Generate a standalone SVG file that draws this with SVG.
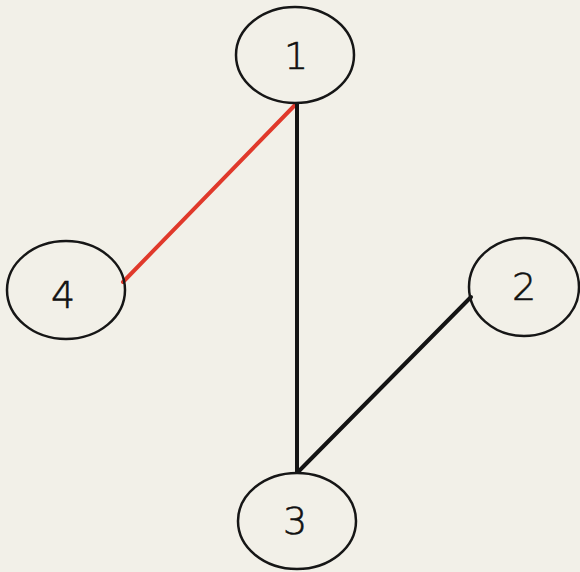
<svg xmlns="http://www.w3.org/2000/svg" width="580" height="572" viewBox="0 0 580 572">
<style>
.node ellipse{fill:none;stroke:#161616;stroke-width:2.5}
.node text{font-family:"DejaVu Sans","Liberation Sans",sans-serif;font-size:38px;font-weight:200;fill:#111;stroke:#111;stroke-width:0.6;text-anchor:middle;dominant-baseline:central}
.edge{stroke-width:4;stroke-linecap:round}
</style>
<rect width="580" height="572" fill="#f2f0e8"/>
<g id="connectors">
<line class="edge" x1="296" y1="104" x2="123" y2="282" stroke="#e0392b"/>
<line class="edge" x1="297" y1="104" x2="297" y2="472" stroke="#141414"/>
<line class="edge" x1="471" y1="297" x2="298" y2="472" stroke="#141414"/>
</g>
<g id="node1" class="node"><ellipse cx="295" cy="55" rx="59" ry="48"/><text x="296" y="56">1</text></g>
<g id="node4" class="node"><ellipse cx="66" cy="290" rx="59" ry="49"/><text x="63" y="295">4</text></g>
<g id="node2" class="node"><ellipse cx="524" cy="287" rx="55" ry="49"/><text x="524" y="287">2</text></g>
<g id="node3" class="node"><ellipse cx="297" cy="521" rx="59" ry="48"/><text x="295" y="521">3</text></g>
</svg>
